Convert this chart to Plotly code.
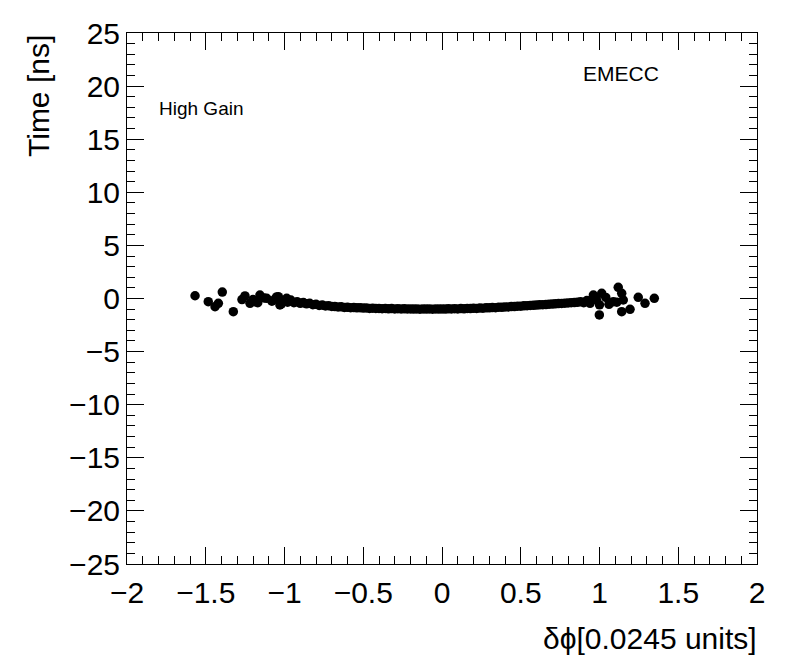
import plotly.graph_objects as go

# Band of points (dphi, time)
band_x = [-1.00, -0.98, -0.96, -0.94, -0.92, -0.90, -0.88, -0.86, -0.84, -0.82,
          -0.80, -0.78, -0.76, -0.74, -0.72, -0.70, -0.68, -0.66, -0.64, -0.62,
          -0.60, -0.58, -0.56, -0.54, -0.52, -0.50, -0.48, -0.46, -0.44, -0.42,
          -0.40, -0.38, -0.36, -0.34, -0.32, -0.30, -0.28, -0.26, -0.24, -0.22,
          -0.20, -0.18, -0.16, -0.14, -0.12, -0.10, -0.08, -0.06, -0.04, -0.02,
          0.00, 0.02, 0.04, 0.06, 0.08, 0.10, 0.12, 0.14, 0.16, 0.18,
          0.20, 0.22, 0.24, 0.26, 0.28, 0.30, 0.32, 0.34, 0.36, 0.38,
          0.40, 0.42, 0.44, 0.46, 0.48, 0.50, 0.52, 0.54, 0.56, 0.58,
          0.60, 0.62, 0.64, 0.66, 0.68, 0.70, 0.72, 0.74, 0.76, 0.78,
          0.80, 0.82, 0.84, 0.86, 0.88, 0.90, 0.92, 0.94]
band_y = [-0.20, -0.35, -0.15, -0.40, -0.30, -0.45, -0.38, -0.50, -0.45, -0.58,
          -0.55, -0.65, -0.62, -0.70, -0.68, -0.75, -0.76, -0.80, -0.78, -0.84,
          -0.83, -0.86, -0.85, -0.88, -0.87, -0.90, -0.89, -0.93, -0.91, -0.94,
          -0.93, -0.96, -0.94, -0.97, -0.95, -0.98, -0.96, -0.99, -0.97, -0.99,
          -0.98, -1.00, -0.98, -1.01, -0.99, -1.00, -0.98, -1.01, -0.99, -1.00,
          -0.98, -1.00, -0.97, -0.99, -0.96, -0.98, -0.95, -0.97, -0.94, -0.95,
          -0.92, -0.93, -0.90, -0.91, -0.88, -0.88, -0.85, -0.86, -0.82, -0.83,
          -0.79, -0.80, -0.76, -0.76, -0.72, -0.72, -0.69, -0.68, -0.65, -0.64,
          -0.62, -0.60, -0.58, -0.57, -0.53, -0.52, -0.50, -0.48, -0.46, -0.44,
          -0.42, -0.40, -0.38, -0.36, -0.30, -0.40, -0.25, -0.45]

# Scattered points at the edges
edge_x = [-1.568, -1.484, -1.395, -1.441, -1.420, -1.325, -1.251, -1.219, -1.156, -1.187,
          -1.113, -1.039, -1.029, -0.986, -1.200, -1.170, -1.130, -1.080, -1.050, -1.020,
          -1.270, -1.060,
          0.961, 1.014, 1.088, 0.999, 1.119, 1.141, 1.151, 1.141, 1.194, 1.246,
          1.289, 1.348, 0.980, 1.040, 1.060, 1.000, 0.920, 1.110]
edge_y = [0.26, -0.30, 0.61, -0.77, -0.45, -1.24, 0.24, -0.45, 0.33, -0.30,
          0.02, 0.17, -0.61, 0.02, -0.10, -0.40, 0.05, -0.25, 0.15, -0.50,
          -0.10, -0.05,
          0.33, 0.49, -0.30, -1.55, 1.05, 0.49, -0.14, -1.24, -1.02, 0.11,
          -0.45, 0.02, -0.10, 0.10, -0.55, -0.60, -0.20, -0.35]

x_ticks = [-2, -1.5, -1, -0.5, 0, 0.5, 1, 1.5, 2]
x_labels = ["−2", "−1.5", "−1", "−0.5", "0", "0.5", "1", "1.5", "2"]
y_ticks = [-25, -20, -15, -10, -5, 0, 5, 10, 15, 20, 25]
y_labels = ["−25", "−20", "−15", "−10", "−5", "0", "5", "10", "15", "20", "25"]

FONT = "Liberation Sans, Arial, Helvetica, sans-serif"

fig = go.Figure()
fig.add_trace(go.Scatter(x=band_x + edge_x, y=band_y + edge_y, mode="markers",
                         marker=dict(color="black", size=9.5, line=dict(width=0)),
                         showlegend=False, hoverinfo="skip"))
# invisible trace to activate the mirror axes (top/right ticks)
fig.add_trace(go.Scatter(x=[x_ticks[0]], y=[y_ticks[0]], xaxis="x2", yaxis="y2",
                         mode="markers", marker=dict(opacity=0), showlegend=False,
                         hoverinfo="skip"))

tickfont = dict(family=FONT, size=30, color="black")
common = dict(showgrid=False, zeroline=False, showline=True, linecolor="black",
              linewidth=1, ticks="inside", tickcolor="black", tickwidth=1, ticklen=17)

fig.update_layout(
    xaxis=dict(range=[-2, 2], tickmode="array", tickvals=x_ticks, ticktext=x_labels,
               tickfont=tickfont, ticklabelstandoff=2,
               minor=dict(ticks="inside", ticklen=8, dtick=0.1, tickcolor="black",
                          tickwidth=1, showgrid=False), **common),
    yaxis=dict(range=[-25, 25], tickmode="array", tickvals=y_ticks, ticktext=y_labels,
               tickfont=tickfont,
               minor=dict(ticks="inside", ticklen=8, dtick=1, tickcolor="black",
                          tickwidth=1, showgrid=False), **common),
    xaxis2=dict(range=[-2, 2], overlaying="x", side="top", anchor="y2",
                tickmode="array", tickvals=x_ticks, showticklabels=False,
                minor=dict(ticks="inside", ticklen=8, dtick=0.1, tickcolor="black",
                           tickwidth=1, showgrid=False), **common),
    yaxis2=dict(range=[-25, 25], overlaying="y", side="right", anchor="x2",
                tickmode="array", tickvals=y_ticks, showticklabels=False,
                minor=dict(ticks="inside", ticklen=8, dtick=1, tickcolor="black",
                           tickwidth=1, showgrid=False), **common),
)

W, H = 796, 672
L, R, T, B = 127, 39, 33, 108
pw = W - L - R
ph = H - T - B

fig.add_annotation(text="Time [ns]", xref="paper", yref="paper",
                   x=-(L - 38) / pw, y=1.0, xanchor="center", yanchor="top",
                   textangle=-90, showarrow=False,
                   font=dict(family=FONT, size=30, color="black"))
fig.add_annotation(text="δϕ[0.0245 units]", xref="paper", yref="paper",
                   x=(759 - L) / pw, y=-(638 - (H - B)) / ph, xanchor="right", yanchor="middle",
                   showarrow=False, font=dict(family=FONT, size=30, color="black"))
fig.add_annotation(text="High Gain", xref="paper", yref="paper",
                   x=(157 - L) / pw, y=1 - (108 - T) / ph, xanchor="left", yanchor="middle",
                   showarrow=False, font=dict(family=FONT, size=19, color="black"))
fig.add_annotation(text="EMECC", xref="paper", yref="paper",
                   x=(581 - L) / pw, y=1 - (73 - T) / ph, xanchor="left", yanchor="middle",
                   showarrow=False, font=dict(family=FONT, size=21, color="black"))

fig.update_layout(width=W, height=H, margin=dict(l=L, r=R, t=T, b=B, autoexpand=False),
                  plot_bgcolor="white", paper_bgcolor="white",
                  font=dict(family=FONT, color="black"))

fig.write_html("out.html", config={"displayModeBar": False},
               post_script="document.body.style.margin='0';document.body.style.overflow='hidden';")
